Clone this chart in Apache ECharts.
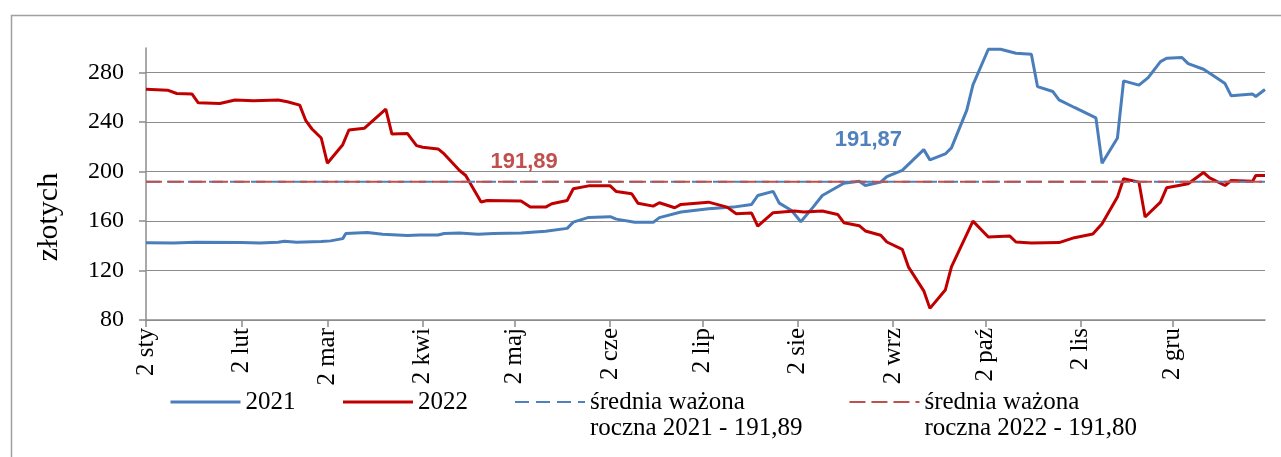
<!DOCTYPE html>
<html>
<head>
<meta charset="utf-8">
<script src="https://cdn.jsdelivr.net/npm/echarts@6/dist/echarts.min.js"></script>
<style>
  html, body { margin: 0; padding: 0; background: #fff; }
  #chart { width: 1281px; height: 457px; }
</style>
</head>
<body>
<div id="chart"></div>
<script>
// dni liczone od 2 stycznia (0) do 1 stycznia nast. roku (364)
var days2021 = [0, 9, 16, 31, 37, 43, 45, 49, 57, 60, 64, 65, 72, 77, 85, 89, 95, 97, 102, 108, 113, 122, 130, 137, 139, 144, 151, 153, 159, 165, 167, 174, 183, 191, 197, 199, 204, 206, 210, 213, 217, 220, 227, 232, 234, 239, 241, 246, 253, 255, 260, 262, 267, 269, 274, 278, 283, 288, 290, 295, 297, 302, 309, 311, 316, 318, 323, 326, 330, 332, 337, 339, 344, 347, 351, 353, 360, 361, 364];
var values2021 = [142.5, 142.3, 142.8, 142.6, 142.3, 142.9, 143.7, 142.9, 143.5, 144, 145.8, 149.9, 150.7, 149.3, 148.3, 148.8, 148.8, 149.9, 150.4, 149.3, 149.9, 150.4, 151.7, 154.1, 159.2, 163, 163.6, 161.6, 159, 159, 162.8, 167.3, 170, 171.3, 173.5, 180.7, 184, 174.5, 168.6, 159.5, 171.3, 180.7, 190.6, 192.3, 188.8, 191.5, 196, 201, 217.8, 209.5, 214.3, 219.2, 249.8, 270.2, 299, 299, 295.7, 294.9, 268.8, 264.8, 258.1, 251.9, 243.5, 206.8, 227.2, 273.4, 270, 276.1, 289, 291.7, 292.3, 287.4, 282.8, 278, 271.2, 261.3, 262.7, 260.8, 266.4];

var days2022 = [0, 7, 10, 15, 17, 24, 29, 35, 43, 46, 50, 52, 54, 57, 59, 64, 66, 71, 78, 80, 85, 88, 90, 95, 97, 102, 104, 109, 111, 122, 125, 130, 132, 137, 139, 144, 151, 153, 158, 160, 165, 167, 172, 174, 183, 189, 192, 197, 199, 204, 211, 214, 220, 225, 227, 232, 234, 239, 241, 246, 248, 253, 255, 260, 262, 269, 274, 281, 283, 288, 297, 302, 308, 311, 316, 318, 323, 325, 330, 332, 339, 344, 346, 351, 353, 360, 361, 364];
var values2022 = [266.7, 265.9, 263.2, 262.7, 255.7, 255.1, 257.9, 257.3, 257.9, 256.5, 253.8, 241.2, 234.5, 227.2, 206.8, 221.8, 233.7, 235, 250.6, 230.4, 230.9, 221, 219.7, 218.4, 214.3, 200.9, 196.9, 175.4, 176.7, 176.2, 171.3, 171.3, 174, 176.7, 186.1, 188.5, 188.5, 183.9, 182.1, 174.5, 172.1, 174.8, 170.8, 173.5, 175.3, 171.3, 166, 166.5, 156, 166.8, 168.1, 167.3, 168.1, 165.4, 158.7, 156.3, 152, 148.5, 143.1, 137.2, 123, 103.6, 89.4, 104.2, 123, 160, 147.1, 147.9, 143.1, 142.3, 142.6, 146.6, 149.5, 157.9, 179.4, 194.2, 191.5, 163.3, 175.4, 186.9, 190.2, 199.3, 195, 188.8, 192.8, 192.3, 196.9, 196.9];

var avg2021 = 191.89;
var avg2022 = 191.80;
var avgLabel2021 = '191,87';
var avgLabel2022 = '191,89';

var monthNames = ['sty', 'lut', 'mar', 'kwi', 'maj', 'cze', 'lip', 'sie', 'wrz', 'paź', 'lis', 'gru'];
var monthLengths = [31, 28, 31, 30, 31, 30, 31, 31, 30, 31, 30, 31];
var yTicks = { min: 80, max: 300, step: 40 };

// kategorie dzienne: 2 sty ... 1 sty
var categories = [];
var dayOfMonth = [];
(function () {
  var m = 0, d = 2;
  for (var i = 0; i < 365; i++) {
    categories.push(d + ' ' + monthNames[m]);
    dayOfMonth.push(d);
    d++;
    if (d > monthLengths[m]) { d = 1; m = (m + 1) % 12; }
  }
})();

function pairs(days, values) {
  return days.map(function (d, i) { return [d, values[i]]; });
}
// linia średniej z jednym opisanym punktem
function avgLine(v, labelDay, text, color, dist) {
  return [
    [0, v],
    {
      value: [labelDay, v],
      symbol: 'circle', symbolSize: 1,
      label: { show: true, formatter: text, position: 'top', distance: dist,
        color: color, fontFamily: 'Liberation Sans', fontWeight: 'bold', fontSize: 22 }
    },
    [categories.length - 1, v]
  ];
}
function isLabelDay(index) { return dayOfMonth[index] === 2; }

var serif = 'Liberation Serif';
var myChart = echarts.init(document.getElementById('chart'));

var option = {
  animation: false,
  graphic: [{
    type: 'rect', left: 9, top: 13,
    shape: { width: 1400, height: 600 },
    style: { fill: 'none', stroke: '#a0a0a0', lineWidth: 1.5 }
  }],
  grid: { left: 146, right: 16, top: 48, bottom: 137 },
  legend: {
    left: 169, top: 363, padding: 0,
    itemWidth: 70, itemHeight: 14, itemGap: 46,
    itemStyle: { opacity: 0 },
    data: [
      { name: '2021', lineStyle: { width: 3 } },
      { name: '2022', lineStyle: { width: 3 } },
      { name: 'średnia ważona roczna 2021 - 191,89', lineStyle: { width: 2 } },
      { name: 'średnia ważona roczna 2022 - 191,80', lineStyle: { width: 2 } }
    ],
    textStyle: { fontFamily: serif, fontSize: 25, color: '#000', lineHeight: 26 },
    formatter: function (name) {
      if (name.indexOf('średnia') === 0) return '\n' + name.replace(' roczna', '\nroczna');
      return name;
    }
  },
  xAxis: {
    type: 'category',
    data: categories,
    boundaryGap: false,
    axisLine: { lineStyle: { color: '#8c8c8c', width: 1.5 } },
    axisTick: { show: true, interval: isLabelDay, length: 7, lineStyle: { color: '#8c8c8c', width: 1.5 } },
    axisLabel: { interval: isLabelDay, rotate: 90, margin: 8, fontFamily: serif, fontSize: 25, color: '#000' }
  },
  yAxis: {
    type: 'value',
    min: yTicks.min, max: yTicks.max, interval: yTicks.step,
    name: 'złotych',
    nameLocation: 'middle',
    nameGap: 82,
    nameTextStyle: { fontFamily: serif, fontSize: 30, color: '#000', padding: [0, 66, 0, 0] },
    axisLine: { show: true, lineStyle: { color: '#8c8c8c', width: 1.5 } },
    axisTick: { show: true, length: 7, lineStyle: { color: '#8c8c8c', width: 1.5 } },
    axisLabel: { margin: 22, showMaxLabel: false, fontFamily: serif, fontSize: 24, color: '#000' },
    splitLine: { show: true, showMaxLine: false, lineStyle: { color: '#8c8c8c', width: 1.2 } }
  },
  series: [
    {
      name: '2021', type: 'line', symbol: 'none',
      lineStyle: { color: '#4a7ebb', width: 3 }, itemStyle: { color: '#4a7ebb' },
      data: pairs(days2021, values2021)
    },
    {
      name: '2022', type: 'line', symbol: 'none',
      lineStyle: { color: '#c00000', width: 3 }, itemStyle: { color: '#c00000' },
      data: pairs(days2022, values2022)
    },
    {
      name: 'średnia ważona roczna 2021 - 191,89', type: 'line', symbol: 'none', showAllSymbol: true,
      lineStyle: { color: '#4f81bd', width: 2, type: [14, 7] }, itemStyle: { color: '#4f81bd' },
      data: avgLine(avg2021, 235, avgLabel2021, '#4f81bd', 30)
    },
    {
      name: 'średnia ważona roczna 2022 - 191,80', type: 'line', symbol: 'none', showAllSymbol: true,
      lineStyle: { color: '#c0504d', width: 2, type: [16, 6] }, itemStyle: { color: '#c0504d' },
      data: avgLine(avg2022, 123, avgLabel2022, '#c0504d', 8)
    }
  ]
};
myChart.setOption(option);
window.addEventListener('resize', function () {
  myChart.resize();
});
</script>
</body>
</html>
